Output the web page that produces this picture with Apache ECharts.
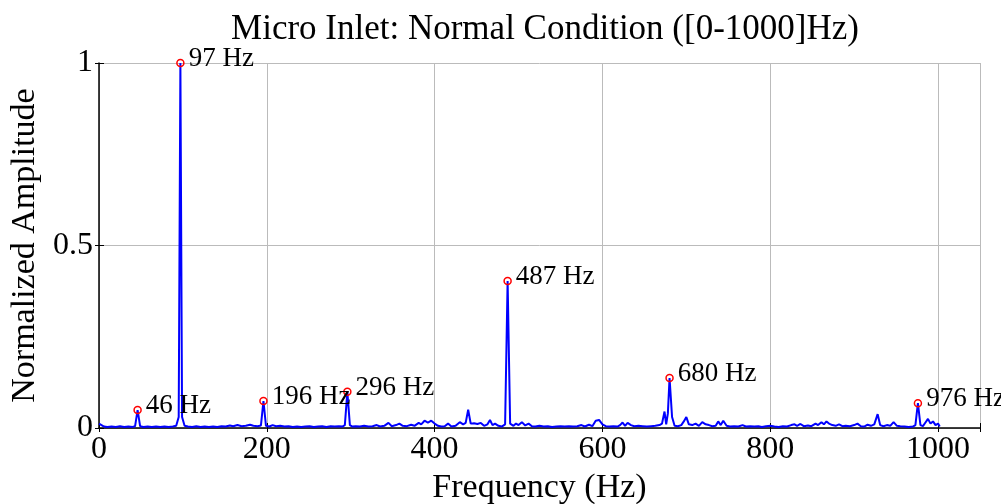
<!DOCTYPE html>
<html>
<head>
<meta charset="utf-8">
<script src="https://cdn.jsdelivr.net/npm/echarts@6/dist/echarts.min.js"></script>
<style>html,body{margin:0;padding:0;background:#fff;}#c{width:1001px;height:504px;}</style>
</head>
<body>
<div id="c"></div>
<script>
const freqs = [0,3,6,10,15,20,25,30,35,40,43,46,49,53,58,63,68,73,78,83,88,92,95,97,99,102,106,111,116,121,126,131,136,141,146,151,156,160,165,170,175,180,184,189,193,196,199,203,207,211,216,221,226,231,236,241,246,251,256,261,266,271,276,281,286,290,293,296,299,302,306,311,316,321,326,331,335,340,345,349,354,358,362,367,372,376,381,384,388,392,396,400,404,408,412,416,420,425,430,434,437,440,443,447,451,455,459,463,466,469,472,476,480,484,487,490,494,497,500,504,508,512,516,520,525,530,535,540,545,550,555,560,565,570,575,579,584,588,592,596,600,604,608,613,618,621,624,627,630,634,638,643,648,653,658,663,668,671,674,676,678,680,683,686,690,694,697,700,703,707,711,715,719,723,727,731,735,738,741,744,748,752,757,762,767,771,776,781,786,790,795,800,805,810,815,820,825,829,832,836,840,845,849,854,857,861,864,867,870,874,878,882,886,890,895,900,904,908,912,916,920,924,928,931,935,939,943,947,951,955,960,965,970,973,976,979,982,985,988,991,994,997,1000,1002];
const amps = [0.012,0.008,0.004,0.003,0.004,0.003,0.005,0.003,0.004,0.003,0.005,0.049,0.005,0.003,0.004,0.003,0.004,0.003,0.004,0.003,0.004,0.006,0.03,1.0,0.03,0.006,0.004,0.003,0.005,0.003,0.004,0.003,0.004,0.003,0.005,0.004,0.007,0.005,0.008,0.005,0.006,0.009,0.006,0.005,0.007,0.074,0.006,0.004,0.008,0.005,0.006,0.004,0.005,0.003,0.004,0.003,0.004,0.005,0.003,0.004,0.005,0.003,0.005,0.004,0.005,0.004,0.008,0.099,0.008,0.004,0.005,0.004,0.006,0.004,0.005,0.008,0.004,0.006,0.014,0.005,0.008,0.012,0.006,0.005,0.009,0.006,0.014,0.01,0.02,0.015,0.02,0.012,0.006,0.004,0.005,0.012,0.004,0.006,0.016,0.01,0.014,0.05,0.012,0.013,0.011,0.014,0.006,0.01,0.022,0.008,0.012,0.006,0.004,0.01,0.403,0.012,0.006,0.012,0.008,0.016,0.007,0.012,0.005,0.004,0.006,0.004,0.005,0.003,0.004,0.005,0.004,0.005,0.004,0.005,0.008,0.004,0.009,0.005,0.02,0.022,0.01,0.005,0.004,0.005,0.004,0.008,0.015,0.006,0.014,0.008,0.005,0.006,0.005,0.004,0.005,0.006,0.008,0.012,0.045,0.01,0.04,0.137,0.03,0.006,0.005,0.008,0.018,0.03,0.01,0.008,0.012,0.006,0.016,0.01,0.008,0.005,0.006,0.018,0.008,0.02,0.006,0.004,0.005,0.004,0.008,0.004,0.005,0.004,0.005,0.003,0.005,0.006,0.004,0.003,0.005,0.004,0.008,0.01,0.006,0.011,0.005,0.007,0.005,0.012,0.008,0.016,0.01,0.018,0.012,0.008,0.006,0.01,0.005,0.006,0.005,0.008,0.012,0.005,0.004,0.009,0.006,0.01,0.038,0.008,0.005,0.008,0.006,0.016,0.006,0.005,0.004,0.003,0.004,0.008,0.068,0.008,0.005,0.015,0.025,0.012,0.018,0.008,0.012,0.004];
const peakFreqs = [46,97,196,296,487,680,976];
const peakAmps = [0.049,1.0,0.074,0.099,0.403,0.137,0.068];
const peakLabels = ['46 Hz','97 Hz','196 Hz','296 Hz','487 Hz','680 Hz','976 Hz'];
const xTicks = [0,200,400,600,800,1000];
const yTicks = [0,0.5,1];

const FONT = 'Liberation Serif';
const chart = echarts.init(document.getElementById('c'), null, {renderer:'canvas'});
const lineData = freqs.map((f,i)=>[f, amps[i]]);
const peakData = peakFreqs.map((f,i)=>({value:[f, peakAmps[i]], name: peakLabels[i]}));

chart.setOption({
  animation:false,
  backgroundColor:'#fff',
  title:{
    text:'Micro Inlet: Normal Condition ([0-1000]Hz)',
    left:540, top:7, textAlign:'center',
    textStyle:{fontFamily:FONT, fontSize:35, fontWeight:'normal', color:'#000'}
  },
  grid:{left:99, right:21, top:63, bottom:76, containLabel:false, outerBoundsMode:'none'},
  xAxis:[{
    type:'value', min:0, max:1050, interval:200,
    name:'Frequency (Hz)', nameLocation:'middle', nameGap:38,
    nameTextStyle:{fontFamily:FONT, fontSize:34, color:'#000'},
    axisLine:{show:true, onZero:false, lineStyle:{color:'#000', width:1.5}},
    axisTick:{show:true, inside:true, length:5, lineStyle:{color:'#000'}},
    axisLabel:{fontFamily:FONT, fontSize:32, color:'#000', margin:6,
      formatter:v=> xTicks.indexOf(v)>=0 ? String(v) : ''},
    splitLine:{show:true, lineStyle:{color:'#bbbbbb', width:1}}
  },{
    type:'value', min:0, max:1050, interval:200, position:'top',
    axisLine:{show:false}, axisLabel:{show:false}, splitLine:{show:false},
    axisTick:{show:true, inside:true, length:4, lineStyle:{color:'#000'}}
  }],
  yAxis:[{
    type:'value', min:0, max:1, interval:0.5,
    name:'Normalized Amplitude', nameLocation:'middle', nameGap:56, nameRotate:90,
    nameTextStyle:{fontFamily:FONT, fontSize:34, color:'#000'},
    axisLine:{show:true, lineStyle:{color:'#000', width:1.5}},
    axisTick:{show:true, inside:true, length:5, lineStyle:{color:'#000'}},
    axisLabel:{fontFamily:FONT, fontSize:32, color:'#000', margin:6,
      formatter:v=> yTicks.indexOf(v)>=0 ? String(v) : ''},
    splitLine:{show:true, lineStyle:{color:'#bbbbbb', width:1}}
  },{
    type:'value', min:0, max:1, interval:0.5, position:'right',
    axisLine:{show:false}, axisLabel:{show:false}, splitLine:{show:false},
    axisTick:{show:true, inside:true, length:4, lineStyle:{color:'#000'}}
  }],
  series:[{
    type:'line', data:lineData, showSymbol:false, symbol:'none',
    lineStyle:{color:'#0000ff', width:2}, z:3
  },{
    type:'scatter', data:peakData, symbol:'circle', symbolSize:7,
    itemStyle:{color:'rgba(255,255,255,0)', borderColor:'#ff0000', borderWidth:1.5, opacity:1}, z:4,
    label:{show:true, position:'right', distance:4, offset:[0,-4], opacity:1,
      formatter:p=>p.name, fontFamily:FONT, fontSize:27, color:'#000000', textBorderWidth:0}
  }]
});
</script>
</body>
</html>
